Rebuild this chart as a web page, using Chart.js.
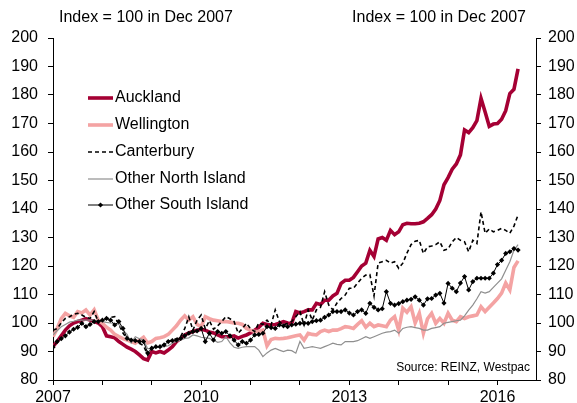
<!DOCTYPE html>
<html>
<head>
<meta charset="utf-8">
<script src="https://cdn.jsdelivr.net/npm/chart.js@4.4.1/dist/chart.umd.min.js"></script>
<style>
html, body { margin: 0; padding: 0; background: #fff; }
#wrap { width: 577px; height: 403px; }
</style>
</head>
<body>
<div id="wrap"><canvas id="houseChart" width="577" height="403"></canvas></div>
<script>
// monthly, Jan 2007 - Jun 2016, Index = 100 in Dec 2007
const startYear = 2007;
const yearTicks = [2007, 2008, 2009, 2010, 2011, 2012, 2013, 2014, 2015, 2016];
const labelYears = [2007, 2010, 2013, 2016];
const yTicks = [80, 90, 100, 110, 120, 130, 140, 150, 160, 170, 180, 190, 200];

const auckland = [
    91.7, 93.5, 95.5, 97.5, 99, 100, 100.5, 101, 101.5, 101, 100.5, 100,
    98.7, 95.5, 95.2, 94.8, 93.5, 92.5, 91.5, 90.8, 90, 88.8, 87.5, 87,
    90, 89.5, 90, 89.5, 90.5, 91.7, 93.5, 94.5, 95.8, 96.5, 97, 97.5,
    97.8, 97.5, 96.8, 96.5, 95.8, 95.2, 95.2, 95.2, 95.5, 94.7, 95.3, 95.8,
    96.5, 97.5, 98.5, 99.9, 99.5, 99.3, 99.5, 99.9, 100.5, 100, 99.9, 104,
    103.5, 104, 104.6, 104.6, 106.9, 106.5, 108, 108, 109.5, 110.4, 113.9, 115,
    115, 116, 118, 120, 121, 125.5, 123.3, 129.5, 130, 129, 132.5, 131,
    132, 134.5, 135, 134.8, 134.8, 135, 135.5, 136.7, 138, 140, 143, 148.5,
    151, 154, 155.8, 159, 167.7, 166.8, 168.5, 171, 178.8, 174, 169, 169.8,
    170, 171.5, 174.5, 180.5, 182, 189.2
];
const wellington = [
    95.2, 98, 101.5, 103.4, 102.5, 102, 104, 103.5, 104.6, 102.8, 104.6, 101,
    99.9, 98.5, 97.5, 96, 95.2, 94.5, 94, 93.5, 92.9, 94, 95, 93,
    93.5, 94.6, 94.8, 95.2, 96, 97.5, 99, 101, 102.5, 101, 102.2, 99.5,
    98.7, 102.2, 101.5, 101, 100.8, 100.5, 100.5, 100.3, 100, 99.9, 99.5, 98.1,
    97.5, 97, 97, 97.5, 92, 94.2, 94.6, 94.5, 94.6, 94.8, 95.2, 95.5,
    95.8, 94, 96.4, 96, 95.8, 97, 97.5, 97, 97.5, 97.5, 98, 98.7,
    98.5, 98.1, 99.5, 100.8, 98.5, 99.9, 98.7, 99.3, 99, 98.7, 101, 102.2,
    97.5, 105.2, 103.8, 105.7, 100, 103.4, 96.4, 101.5, 103.4, 99.9, 101.6, 99.9,
    103.4, 101, 100.5, 102.2, 101.6, 102.2, 102.5, 102.8, 105.7, 104, 105.5, 107,
    108.6, 110.5, 114, 111.6, 119.5, 121.8
];
const canterbury = [
    97.5, 98, 100, 101.6, 102.2, 103, 103.4, 102.8, 102, 101.6, 104, 100.5,
    101, 101.6, 102, 102.2, 99.5, 96.5, 94.5, 94, 94, 92.9, 92, 88.8,
    91.7, 91.5, 91.7, 92.5, 93.5, 94, 94.5, 95.2, 98, 102.2, 97.5, 101,
    102.8, 98, 100.8, 97.8, 99, 100.5, 102.2, 101.5, 100.5, 96.4, 98, 99.9,
    98, 97, 100, 99.5, 101, 99.3, 104.6, 100.5, 99.3, 99.9, 100.5, 102.2,
    104, 99.3, 104.6, 101, 104.6, 105.5, 111, 106.3, 104.6, 107, 108.6, 109.8,
    112.2, 112.2, 114, 115.7, 116.8, 117, 109.5, 121, 121.5, 122, 121, 121.5,
    119.2, 121, 124.5, 127.5, 128.7, 129, 124.4, 126.7, 127, 127.5, 128.5, 125.5,
    126, 128.5, 130, 129, 128.5, 125, 129, 127.9, 139, 131.5, 133, 132,
    132.5, 133.2, 132.5, 131.5, 134, 137.9
];
const otherNorth = [
    95.8, 97.3, 98.7, 99.5, 100.3, 100.6, 101, 101, 101, 101, 101, 100.8,
    100.5, 100.2, 100, 99.9, 99.5, 97.5, 96, 93, 95.2, 94.5, 94, 91,
    91, 91.7, 91.5, 91.7, 92, 92.9, 93.5, 94, 94.6, 94.8, 95.8, 95.5,
    95, 94.8, 94.6, 94, 93.2, 93.5, 95.2, 93, 91.5, 91.1, 91.5, 91.7,
    91.7, 91.7, 90.5, 88.2, 89.5, 90.5, 91.1, 90.5, 90, 90.5, 90.3, 89.4,
    93.5, 91.1, 91.4, 91.7, 91.4, 91.1, 91.7, 92.3, 92.9, 92.5, 92.3, 93.5,
    93.5, 93.5, 93.8, 94.5, 95.2, 94.6, 95.2, 95.8, 96.4, 96.8, 97, 97.5,
    96.4, 98.1, 98.5, 98.7, 98.4, 98.1, 97.5, 97.5, 98.1, 98.4, 98.7, 99.9,
    100.2, 100.5, 100.8, 101, 102.5, 104.5, 106.3, 108.5, 111, 110.5, 111, 112.5,
    114, 115.5, 118.5, 121.5, 125.5, 127.5
];
const otherSouth = [
    91.5, 93.5, 94.5, 95.5, 96.8, 97.8, 98.5, 99.9, 98.7, 99.5, 100.5, 100.5,
    101, 101.6, 101, 99.3, 100.5, 98.1, 94.6, 94, 93.8, 93.5, 93.5, 89.5,
    91.1, 91.7, 91.7, 92.3, 93.5, 93.8, 94, 94.6, 95.5, 96.4, 97, 97.2,
    98.1, 93.5, 96.4, 94, 97, 96.4, 97, 95.5, 94, 92.3, 93.5, 92.9,
    94, 95.8, 96, 96.4, 98.7, 98.4, 98.1, 99.3, 99, 98.7, 99.3, 99.6,
    99.9, 99.9, 99.9, 100.5, 100.8, 101, 102, 102.8, 104, 104, 104, 104.6,
    103.5, 102.8, 104, 104.6, 103.4, 106.9, 105.5, 104.6, 105, 111, 106.9, 106.3,
    106.8, 107.5, 108, 108.3, 109.2, 108, 106.3, 108.5, 108.6, 109.8, 110.4, 107,
    113.9, 112.2, 111, 114, 116.3, 111.6, 114.5, 115.7, 115.7, 115.7, 115.7, 117.5,
    120.5, 122, 124.4, 125, 126.1, 125.6
];

const FONT = '"Liberation Sans", Arial, sans-serif';
Chart.defaults.font.family = FONT;
Chart.defaults.color = "#000";

const months = auckland.map((v, i) => startYear + i / 12);
const toPoints = arr => arr.map((v, i) => ({ x: months[i], y: v }));

const series = [
    { label: "Auckland", data: auckland, color: "#A50034", width: 3.6, dash: [], order: 5 },
    { label: "Wellington", data: wellington, color: "#F4A3A3", width: 3.6, dash: [], order: 4 },
    { label: "Canterbury", data: canterbury, color: "#000000", width: 1.6, dash: [4, 3], order: 3 },
    { label: "Other North Island", data: otherNorth, color: "#8f8f8f", width: 1.2, dash: [], order: 2 },
    { label: "Other South Island", data: otherSouth, color: "#000000", width: 1, dash: [], order: 1, marker: true }
];

const overlay = {
    id: "overlay",
    afterDraw(chart) {
        const c = chart.ctx;
        const area = chart.chartArea;
        c.save();
        c.fillStyle = "#000";
        c.font = "16px " + FONT;
        c.textBaseline = "middle";
        c.textAlign = "left";
        c.fillText("Index = 100 in Dec 2007", area.left + 6, 18);
        c.textAlign = "right";
        c.fillText("Index = 100 in Dec 2007", area.right - 10, 18);

        // legend
        const rows = [98, 125, 152, 179, 205];
        series.forEach((s, i) => {
            const y = rows[i];
            c.beginPath();
            c.strokeStyle = s.color;
            c.lineWidth = s.width;
            c.setLineDash(s.dash);
            c.moveTo(88, y);
            c.lineTo(113, y);
            c.stroke();
            c.setLineDash([]);
            if (s.marker) {
                c.beginPath();
                c.moveTo(100.5, y - 2.6);
                c.lineTo(103.1, y);
                c.lineTo(100.5, y + 2.6);
                c.lineTo(97.9, y);
                c.closePath();
                c.fill();
            }
            c.textAlign = "left";
            c.fillText(s.label, 115, y);
        });

        c.font = "12px " + FONT;
        c.textAlign = "right";
        c.fillText("Source: REINZ, Westpac", area.right - 6, 368);
        c.restore();
    }
};

const ctx = document.getElementById("houseChart").getContext("2d");

const yAxis = (pos, width, pad) => ({
    type: "linear",
    position: pos,
    min: 80,
    max: 200,
    afterBuildTicks: s => { s.ticks = yTicks.map(v => ({ value: v })); },
    afterFit: s => { s.width = width; },
    grid: { drawOnChartArea: false, drawTicks: true, tickLength: 5, color: "#000" },
    border: { color: "#000", width: 1 },
    ticks: { font: { size: 16 }, color: "#000", padding: pad }
});

const chart = new Chart(ctx, {
    type: "line",
    data: {
        datasets: series.map(s => ({
            label: s.label,
            data: toPoints(s.data),
            borderColor: s.color,
            backgroundColor: s.color,
            borderWidth: s.width,
            borderDash: s.dash,
            tension: 0,
            order: s.order,
            pointRadius: s.marker ? 2.6 : 0,
            pointStyle: "rectRot",
            pointBorderWidth: 0,
            pointBackgroundColor: "#000",
            yAxisID: "y"
        }))
    },
    options: {
        responsive: false,
        animation: false,
        devicePixelRatio: 1,
        layout: { padding: { top: 38, left: 0, right: 0, bottom: 0 } },
        plugins: {
            legend: { display: false },
            tooltip: { enabled: false }
        },
        scales: {
            x: {
                type: "linear",
                min: 2007,
                max: 2016.78,
                afterBuildTicks: s => { s.ticks = yearTicks.map(v => ({ value: v })); },
                afterFit: s => { s.height = 23; },
                grid: { drawOnChartArea: false, drawTicks: true, tickLength: 5, color: "#000" },
                border: { color: "#000", width: 1 },
                ticks: {
                    autoSkip: false,
                    maxRotation: 0,
                    padding: 3,
                    font: { size: 16 },
                    color: "#000",
                    callback: v => labelYears.includes(v) ? String(v) : ""
                }
            },
            y: yAxis("left", 53, 10),
            y2: yAxis("right", 41, 7)
        }
    },
    plugins: [overlay]
});
</script>
</body>
</html>
